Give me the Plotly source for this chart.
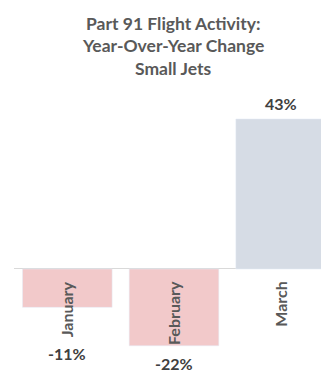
import plotly.graph_objects as go

categories = ["January", "February", "March"]
values = [-11, -22, 43]
value_labels = ["-11%", "-22%", "43%"]
bar_colors = ["#F2C9CA", "#F2C9CA", "#D6DCE5"]
label_yshift = [-46, -18, 15]
title_lines = ["Part 91 Flight Activity:", "Year-Over-Year Change", "Small Jets"]

# page body has an 8px margin: shift figure content up/left by 8px
OFF = 8
W, H = 329, 377
L, R, T, B = 6, 3, 82, 0
plot_h = H - T - B

fig = go.Figure()
fig.add_trace(go.Bar(
    x=categories, y=values, marker_color=bar_colors, width=0.84,
    hoverinfo="skip",
))

annotations = []
for c, v, t, s in zip(categories, values, value_labels, label_yshift):
    annotations.append(dict(
        x=c, y=v, xref="x", yref="y", text=f"<b>{t}</b>", showarrow=False,
        yanchor="middle", yshift=s,
        font=dict(family="Lato", size=16, color="#404040"),
    ))
    annotations.append(dict(
        x=c, y=0, xref="x", yref="y", text=f"<b>{c}</b>", showarrow=False,
        textangle=-90, yanchor="top", yshift=-10,
        font=dict(family="Lato", size=16, color="#595959"),
    ))

title_centers_ref = [23, 45.5, 68.5]
for line, cy in zip(title_lines, title_centers_ref):
    fy = cy - OFF
    annotations.append(dict(
        x=(173 - OFF - L) / (W - L - R), y=1 + (T - fy) / plot_h,
        xref="paper", yref="paper", text=f"<b>{line}</b>", showarrow=False,
        xanchor="center", yanchor="middle",
        font=dict(family="Lato", size=17.5, color="#595959"),
    ))

fig.update_layout(
    width=W, height=H,
    margin=dict(l=L, r=R, t=T, b=B),
    paper_bgcolor="white", plot_bgcolor="white",
    showlegend=False,
    xaxis=dict(range=[-0.5, 2.5], showticklabels=False, showgrid=False,
               zeroline=False, showline=False, fixedrange=True),
    yaxis=dict(range=[-33.25, 51.3], showticklabels=False, showgrid=False,
               zeroline=True, zerolinecolor="#D9D9D9", zerolinewidth=1,
               showline=False),
    annotations=annotations,
)

fig.write_html("out.html")
